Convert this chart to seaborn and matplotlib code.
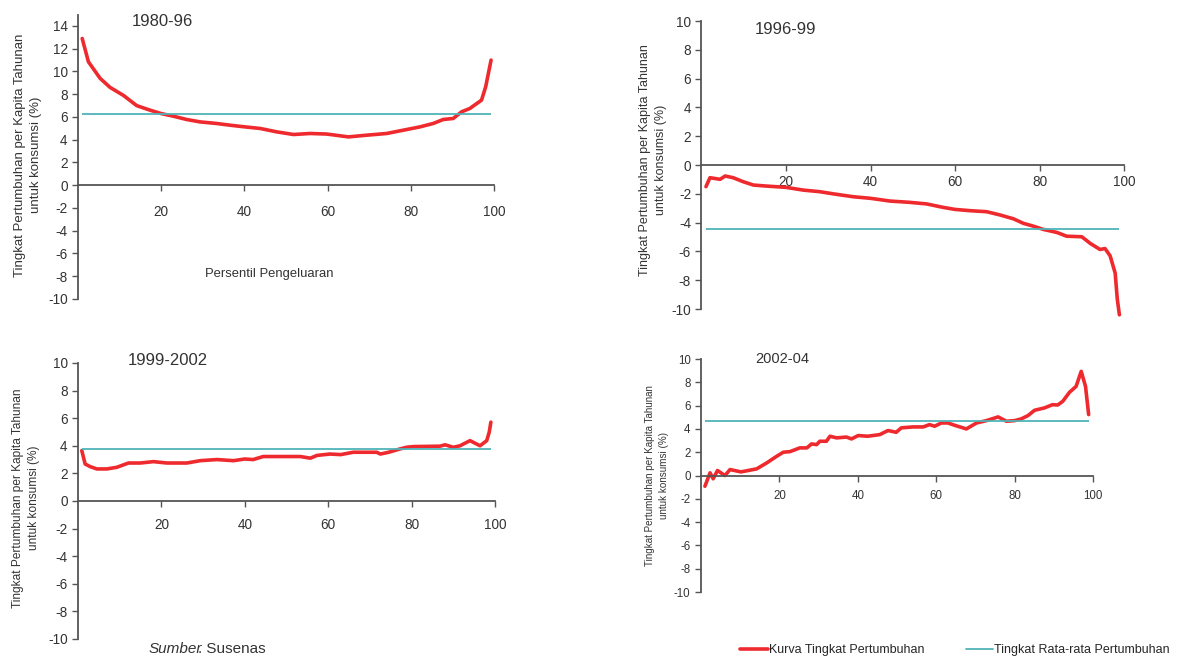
import numpy as np
import pandas as pd
import matplotlib
matplotlib.use("Agg")
import matplotlib.pyplot as plt
import seaborn as sns
from matplotlib.lines import Line2D

# data (percentile, growth %)
pct_8096 = [1, 2.5, 5.3, 7.7, 10.9, 14.1, 17.3, 20, 22.9, 26.1, 29.3, 33.3, 36.5, 40.1, 43.8,
            47.8, 51.8, 55.8, 59.8, 65, 69.4, 74.2, 78.2, 82.2, 85.4, 87.8, 90.2, 92.2, 94.2,
            97, 98, 99.3]
val_8096 = [12.9, 10.85, 9.4, 8.6, 7.9, 7.0, 6.6, 6.3, 6.07, 5.78, 5.57, 5.43, 5.28, 5.13, 4.99,
            4.69, 4.46, 4.55, 4.5, 4.25, 4.4, 4.55, 4.84, 5.13, 5.43, 5.78, 5.87, 6.45, 6.75,
            7.48, 8.65, 11.0]

pct_9699 = [1.06, 2, 4.4, 5.6, 7.5, 9.9, 12.3, 15.4, 20, 24.1, 28, 31.2, 35.9, 40, 44.6, 49.3,
            53.3, 57.2, 60, 63.6, 67.5, 70.7, 73.8, 76.2, 78.5, 80.9, 84.1, 86.4, 90, 92,
            94.3, 95.5, 96.7, 97.9, 98.4, 98.9]
val_9699 = [-1.5, -0.88, -0.99, -0.76, -0.88, -1.16, -1.39, -1.46, -1.55, -1.74, -1.85, -2.0,
            -2.2, -2.31, -2.5, -2.59, -2.7, -2.94, -3.08, -3.17, -3.24, -3.47, -3.73, -4.05,
            -4.24, -4.47, -4.68, -4.94, -4.98, -5.44, -5.86, -5.8, -6.3, -7.5, -9.3, -10.4]

pct_9902 = [0.9, 1.7, 2.9, 4.5, 6.9, 9.3, 12.1, 14.9, 18.1, 21.3, 26.1, 29.3, 33.3, 37.3, 40,
            42, 44.4, 49, 53.3, 55.7, 57.3, 60.4, 63, 66, 71.6, 72.5, 74.5, 77.2, 78.8, 80.4,
            86.8, 88, 90, 91.6, 94, 96.4, 98, 98.6, 99]
val_9902 = [3.65, 2.68, 2.49, 2.32, 2.32, 2.44, 2.75, 2.75, 2.85, 2.75, 2.75, 2.92, 3.0, 2.92,
            3.04, 3.0, 3.22, 3.22, 3.22, 3.1, 3.3, 3.4, 3.36, 3.53, 3.53, 3.4, 3.53, 3.77, 3.89,
            3.94, 3.97, 4.07, 3.89, 4.0, 4.37, 4.0, 4.37, 4.98, 5.71]

pct_0204 = [1.0, 2.3, 3.1, 4.2, 6.1, 7.4, 10.2, 14.2, 16.8, 19.3, 21, 22.7, 25.2, 27, 28.2,
            29.5, 30.3, 32, 32.9, 34.6, 37.1, 38.4, 40.1, 42.5, 45.6, 47.7, 49.8, 51.1, 54.1,
            56.7, 58.3, 59.6, 61.3, 63, 64.7, 67.7, 70.3, 72.8, 75.8, 77.9, 80, 81.7, 83.4,
            85.1, 87.6, 89.7, 91, 92.3, 94, 95.7, 97, 98.1, 98.9]
val_0204 = [-0.92, 0.23, -0.28, 0.43, 0.0, 0.51, 0.31, 0.57, 1.09, 1.65, 2.0, 2.05, 2.37,
            2.37, 2.71, 2.65, 2.94, 2.94, 3.37, 3.23, 3.3, 3.14, 3.43, 3.37, 3.51, 3.86, 3.71,
            4.09, 4.17, 4.17, 4.37, 4.23, 4.51, 4.51, 4.31, 4.0, 4.51, 4.71, 5.03, 4.66, 4.71,
            4.86, 5.14, 5.6, 5.8, 6.08, 6.05, 6.37, 7.14, 7.65, 8.94, 7.65, 5.23]

titles = ["1980-96", "1996-99", "1999-2002", "2002-04"]
means = [6.3, -4.47, 3.77, 4.66]
mean_span = [(1, 99.3), (1.06, 98.9), (0.9, 99), (1.0, 98.9)]

ylabel = "Tingkat Pertumbuhan per Kapita Tahunan\nuntuk konsumsi (%)"
red = "#ee2a2e"
teal = "#4fb3b8"
axcol = "#555555"
txtcol = "#333333"

sns.set_theme(style="white")
plt.rcParams['font.family'] = ['Liberation Sans Narrow', 'Liberation Sans', 'DejaVu Sans']
plt.rcParams['axes.unicode_minus'] = False

fig = plt.figure(figsize=(11.77, 6.58), dpi=100)

positions = [[0.0663, 0.5456, 0.3534, 0.4322],
             [0.5960, 0.5150, 0.3590, 0.4530],
             [0.0663, 0.0289, 0.3543, 0.4195],
             [0.5956, 0.1003, 0.3330, 0.3541]]
ylims = [(-10, 15), (-10.7, 10), (-10, 10), (-10, 10)]
yticks = [np.arange(-10, 15, 2), np.arange(-10, 11, 2), np.arange(-10, 11, 2), np.arange(-10, 11, 2)]
tick_fs = [9.8, 9.8, 9.8, 8.3]
xpad = [10.5, 3.5, 8.5, 6.5]
title_pos = [(20.2, 14.4), (19.8, 9.44), (21.6, 10.2), (20.6, 10.0)]
title_fs = [12, 12, 12, 10.5]
ylabel_pos = [(0.0238, 0.7644), (0.5544, 0.7568), (0.0221, 0.2432), (0.5582, 0.2766)]
ylabel_fs = [9.5, 9.0, 8.6, 7.1]

data = [(pct_8096, val_8096), (pct_9699, val_9699), (pct_9902, val_9902), (pct_0204, val_0204)]

for i, (pct, val) in enumerate(data):
    ax = fig.add_axes(positions[i])
    df = pd.DataFrame({"persentil": pct, "tumbuh": val})
    sns.lineplot(data=df, x="persentil", y="tumbuh", ax=ax, color=red, lw=2.6, clip_on=False)
    ax.hlines(means[i], mean_span[i][0], mean_span[i][1], color=teal, lw=1.3)
    ax.set_xlim(0, 100)
    ax.set_ylim(*ylims[i])
    ax.set_xticks([20, 40, 60, 80, 100])
    ax.set_yticks(yticks[i])
    ax.set_xlabel("")
    ax.set_ylabel("")
    ax.patch.set_alpha(0)
    for s in ["top", "right"]:
        ax.spines[s].set_visible(False)
    ax.spines["bottom"].set_position(("data", 0))
    ax.spines["left"].set_bounds(-10, ylims[i][1] if i != 1 else 10)
    for s in ["left", "bottom"]:
        ax.spines[s].set_color(axcol)
        ax.spines[s].set_linewidth(1.3)
    ax.tick_params(axis="both", direction="out", length=4, width=1, color=axcol,
                   labelsize=tick_fs[i], labelcolor=txtcol, left=True, bottom=True)
    ax.tick_params(axis="x", pad=xpad[i])
    ax.text(title_pos[i][0], title_pos[i][1], titles[i], ha="center", va="center",
            fontsize=title_fs[i], color=txtcol, family=['Liberation Sans', 'DejaVu Sans'])
    fig.text(ylabel_pos[i][0], ylabel_pos[i][1], ylabel, rotation=90, ha="center",
             va="center", multialignment="center", fontsize=ylabel_fs[i], color=txtcol,
             linespacing=1.45)
    if i == 0:
        ax.text(45.9, -7.8, "Persentil Pengeluaran", ha="center", va="center",
                fontsize=9.4, color=txtcol)

# source note at the bottom edge
fig.text(149 / 1177, 0.007, "Sumber", style="italic", fontsize=11, color=txtcol,
         ha="left", va="baseline")
fig.text(198 / 1177, 0.007, ". Susenas", fontsize=11, color=txtcol, ha="left", va="baseline")

handles = [Line2D([], [], color=red, lw=2.6), Line2D([], [], color=teal, lw=1.3)]
fig.legend(handles, ["Kurva Tingkat Pertumbuhan", "Tingkat Rata-rata Pertumbuhan"],
           loc="center", bbox_to_anchor=(955 / 1177, 1 - 650 / 658), ncol=2, frameon=False,
           handlelength=2.2, handletextpad=0.1, columnspacing=3.3,
           prop={'family': ['Liberation Sans', 'DejaVu Sans'], 'size': 9})

fig.savefig("out.png", dpi=100)
